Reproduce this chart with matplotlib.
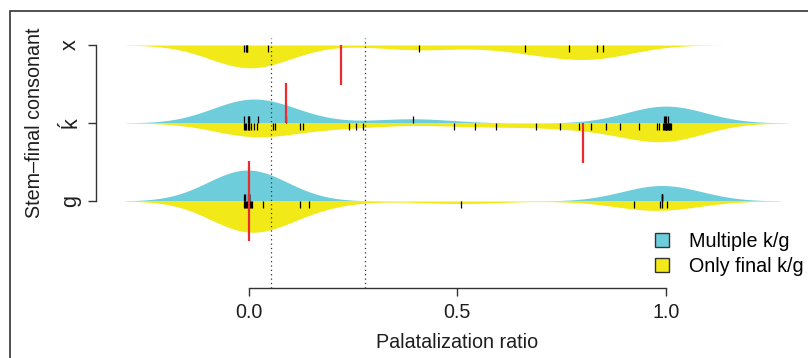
import numpy as np
import matplotlib
matplotlib.use("Agg")
import matplotlib.pyplot as plt
from matplotlib.patches import Patch, Rectangle

plt.rcParams['font.family'] = ['Liberation Sans', 'DejaVu Sans']

# ---------------- data ----------------
categories = ['g', 'ḱ', 'x']          # bottom -> top
levels = [1, 2, 3]

# Multiple k/g (upper half, blue)
multi_g = [-0.010, -0.008, -0.002, 0.0, 0.0, 0.0, 0.0, 0.0,
           0.990, 0.990, 0.990, 0.990]
multi_k = [-0.010, -0.002, 0.0, 0.002, 0.022, 0.089, 0.393,
           0.996, 0.998, 1.000, 1.004]
multi_x = []

# Only final k/g (lower half, yellow)
only_g = [-0.010, -0.008, -0.006, -0.004, -0.002, 0.0, 0.0, 0.002, 0.004,
          0.006, 0.008, 0.034, 0.123, 0.146, 0.508, 0.924, 0.986, 0.991, 1.002]
only_k = [-0.010, -0.008, -0.006, -0.002, 0.0, 0.002, 0.006, 0.012, 0.020,
          0.058, 0.063, 0.123, 0.130, 0.241, 0.257, 0.274,
          0.492, 0.543, 0.593, 0.688, 0.747, 0.792, 0.820, 0.856, 0.891,
          0.935, 0.978, 0.983, 0.993, 0.995, 0.997, 1.000, 1.000,
          1.000, 1.002, 1.004, 1.006, 1.008, 1.010, 1.012]
only_x = [-0.010, -0.007, -0.003, -0.003, 0.046, 0.408, 0.662, 0.767,
          0.835, 0.848]

# bean medians (red lines)
multi_medians = [0.0, 0.089, None]
only_medians = [0.0, 0.800, 0.222]
# overall lines (dotted)
overall_lines = [0.053, 0.278]

xticks = [0.0, 0.5, 1.0]
xticklabels = ['0.0', '0.5', '1.0']
series_labels = ['Multiple k/g', 'Only final k/g']

# ---------------- style ----------------
BLUE = '#6ECDDB'
YELLOW = '#F1E918'
RED = '#EC2B2F'
DARK = '#333333'
TXT = '#1e1e1e'
bw = 0.095
maxhalf = 0.40
tick_len = 0.085
med_len = 0.51
FS = 14.2
FSY = 15.5

W, H = 808, 358
fig = plt.figure(figsize=(W / 100, H / 100), dpi=100)
L, R, T, B = 96, 819, 38, 288
ax = fig.add_axes([L / W, (H - B) / H, (R - L) / W, (B - T) / H])
ax.set_xlim((L - 248.5) / 417.5, (R - 248.5) / 417.5)
ax.set_ylim(-0.115, 3.09)
ax.patch.set_alpha(0)


def kde(vals):
    v = np.asarray(vals, float)
    grid = np.linspace(v.min() - 3 * bw, v.max() + 3 * bw, 600)
    d = np.exp(-0.5 * ((grid[:, None] - v[None, :]) / bw) ** 2).sum(1)
    d /= (len(v) * bw * np.sqrt(2 * np.pi))
    return grid, d


multi = [multi_g, multi_k, multi_x]
only = [only_g, only_k, only_x]
dens = {}
for i in range(3):
    if multi[i]:
        dens[('m', i)] = kde(multi[i])
    if only[i]:
        dens[('o', i)] = kde(only[i])
gmax = max(d.max() for _, d in dens.values())
scale = maxhalf / gmax

for i, lev in enumerate(levels):
    if ('m', i) in dens:
        g, d = dens[('m', i)]
        ax.fill_between(g, lev, lev + d * scale, color=BLUE, lw=0, zorder=2)
    if ('o', i) in dens:
        g, d = dens[('o', i)]
        ax.fill_between(g, lev, lev - d * scale, color=YELLOW, lw=0, zorder=2)

for i, lev in enumerate(levels):
    if multi[i]:
        ax.vlines(multi[i], lev, lev + tick_len, color='black', lw=0.9, zorder=3)
    if only[i]:
        ax.vlines(only[i], lev - tick_len, lev, color='black', lw=0.9, zorder=3)

for v in overall_lines:
    ax.axvline(v, color=DARK, lw=0.9, ls=(0, (1, 2.5)), zorder=4)

for i, lev in enumerate(levels):
    if multi_medians[i] is not None:
        ax.vlines(multi_medians[i], lev, lev + med_len, color=RED, lw=1.6, zorder=5)
    if only_medians[i] is not None:
        ax.vlines(only_medians[i], lev - med_len, lev, color=RED, lw=1.6, zorder=5)

# axes
for s in ['top', 'right']:
    ax.spines[s].set_visible(False)
ax.spines['left'].set_bounds(1, 3)
ax.spines['bottom'].set_bounds(0, 1)
for s in ['left', 'bottom']:
    ax.spines[s].set_color(DARK)
    ax.spines[s].set_linewidth(1.0)
ax.set_yticks(levels)
ax.set_yticklabels(categories, rotation=90, va='center', fontsize=FSY)
ax.set_xticks(xticks)
ax.set_xticklabels(xticklabels, fontsize=FS)
ax.tick_params(axis='both', length=5.8, width=1.0, color=DARK, labelcolor=TXT)
ax.tick_params(axis='y', pad=5)
ax.tick_params(axis='x', pad=5)

fig.text(457.5 / W, 1 - 343 / H, 'Palatalization ratio', ha='center', va='center',
         fontsize=FS, color=TXT)
fig.text(35 / W, 1 - 123 / H, 'Stem–final consonant', ha='center', va='center',
         rotation=90, fontsize=FS, color=TXT)

handles = [Patch(facecolor=BLUE, edgecolor=DARK, lw=1.0),
           Patch(facecolor=YELLOW, edgecolor=DARK, lw=1.0)]
leg = fig.legend(handles, series_labels, loc='upper left',
                 bbox_to_anchor=(655 / W, 1 - 232 / H), frameon=False,
                 fontsize=FS, handlelength=0.72, handleheight=0.72,
                 handletextpad=1.0, labelspacing=0.3, borderpad=0,
                 borderaxespad=0)

# outer frame (partially visible)
fig.add_artist(Rectangle((10 / W, -0.1), 1.2, 1 - 11 / H + 0.1,
                         transform=fig.transFigure, fill=False,
                         edgecolor=DARK, lw=1.2))

fig.savefig('out.png', dpi=100)
